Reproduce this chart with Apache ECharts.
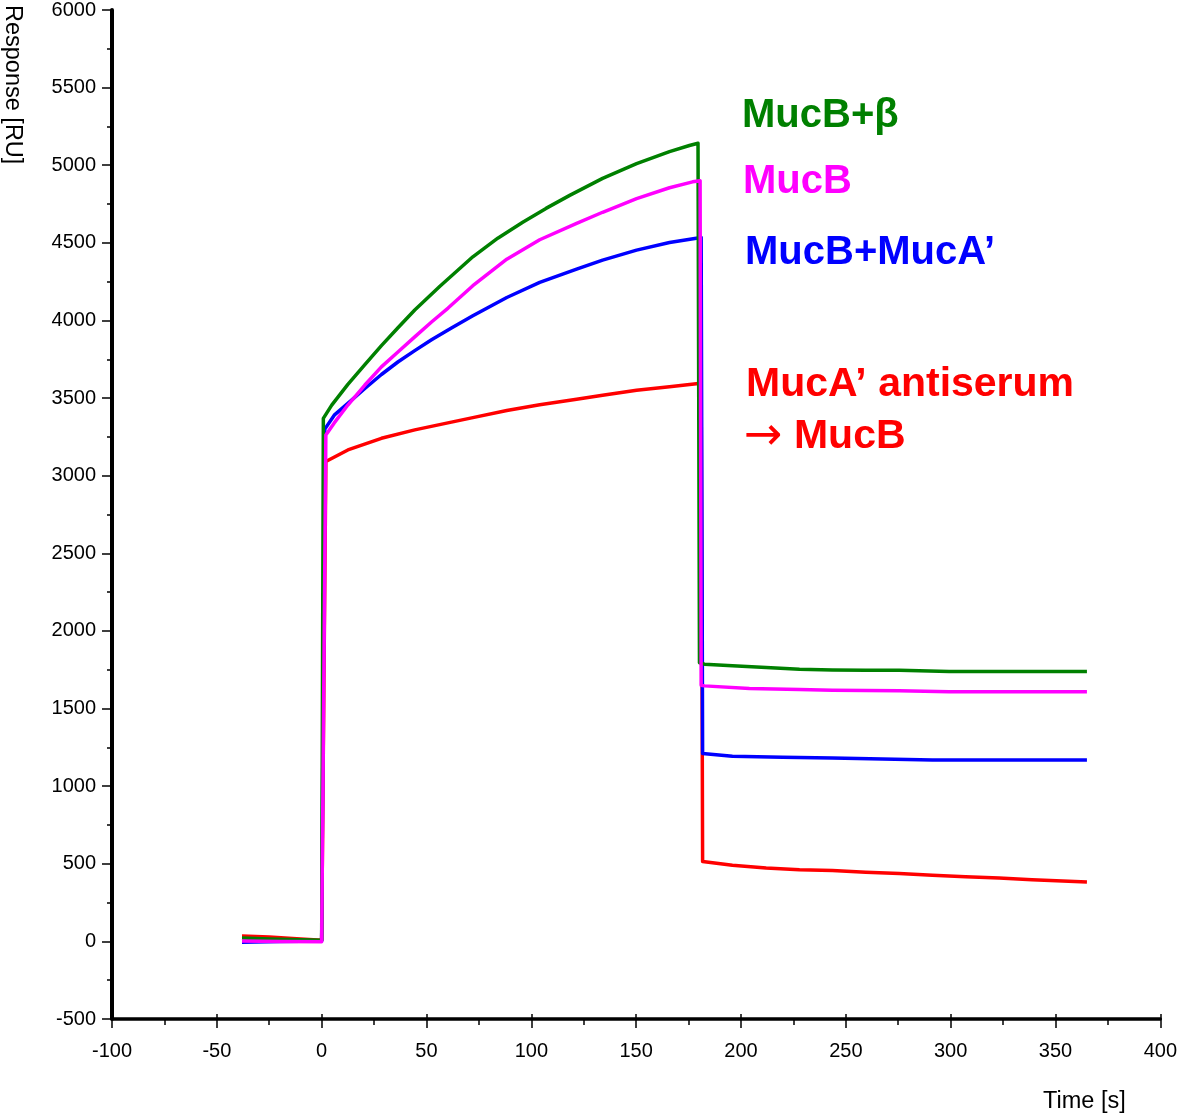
<!DOCTYPE html>
<html>
<head>
<meta charset="utf-8">
<script src="https://cdn.jsdelivr.net/npm/echarts@6/dist/echarts.min.js"></script>
<style>
html,body{margin:0;padding:0;background:#fff;}
#chart{width:1180px;height:1115px;}
</style>
</head>
<body>
<div id="chart"></div>
<script>
// ---- data (time [s], response [RU]) ----
const seriesNames = ['MucA\u2019 antiserum \u2192 MucB', 'MucB+MucA\u2019', 'MucB+\u03b2', 'MucB'];
const seriesColors = ['#ff0000', '#0000ff', '#008000', '#ff00ff'];

const redPts = [[-38,34],[-25,28],[-10,15],[0,8],[2,3091],[12.5,3166],[28.5,3241],[44.4,3295],[61.9,3345],[72.1,3374],[88.3,3420],[104,3457],[121.6,3492],[134,3518],[150.2,3550],[165.9,3573],[178.7,3592],[181,3595],[181.7,515],[182.6,511],[195.9,490],[212,473],[227.9,462],[243.6,456],[259.5,445],[275.5,437],[291.3,426],[307.1,416],[323.1,408],[338.8,397],[365,383]];

const bluePts = [[-38,-5],[-20,0],[0,2],[1.5,3300],[6,3390],[12.5,3466],[20.6,3562],[28.5,3652],[36.5,3734],[44.4,3806],[52.4,3876],[61.9,3952],[72.1,4030],[88.3,4148],[104,4245],[121.6,4331],[134,4389],[150.2,4453],[165.9,4502],[178.7,4530],[181,4535],[181.7,1210],[182.6,1203],[195.9,1192],[219.8,1186],[243.6,1182],[267.4,1175],[291.3,1169],[365,1169]];

const greenPts = [[-38,22],[-25,16],[-10,10],[0,8],[0.8,3369],[4.8,3455],[12.5,3588],[20.6,3715],[28.5,3838],[36.5,3955],[44.4,4067],[56.4,4220],[72.1,4410],[84,4530],[95.9,4633],[107,4722],[118.3,4806],[134,4915],[150.2,5010],[165.9,5088],[175.4,5127],[179.5,5142],[180.2,1795],[182.6,1786],[195.9,1775],[212,1764],[227.9,1753],[243.6,1749],[259.5,1747],[275.5,1747],[299.3,1738],[365,1738]];

const magentaPts = [[-38,2],[-20,0],[0,-2],[2,3262],[6,3340],[12.5,3455],[20.6,3584],[28.5,3701],[36.5,3798],[44.4,3894],[52.4,3990],[60.3,4080],[72.1,4224],[88.3,4395],[104,4520],[121.6,4625],[134,4697],[150.2,4785],[165.9,4855],[176.9,4893],[180.5,4900],[181,1650],[182.6,1646],[204,1629],[227.9,1622],[243.6,1618],[275.5,1614],[299.3,1608],[365,1608]];

const xTicks = {min: -100, max: 400, step: 50};
const yTicks = {min: -500, max: 6000, step: 500};

const chart = echarts.init(document.getElementById('chart'), null, {renderer: 'canvas'});
const FONT = "'Liberation Sans', Arial, Helvetica, sans-serif";
const allPts = [redPts, bluePts, greenPts, magentaPts];
const plain = v => String(v);

const option = {
  animation: false,
  backgroundColor: '#ffffff',
  grid: {left: 112, right: 18, top: 7, bottom: 96, containLabel: false},
  xAxis: [{
    type: 'value', min: xTicks.min, max: xTicks.max, interval: xTicks.step,
    axisLine: {show: true, onZero: false, lineStyle: {color: '#000', width: 3.5}},
    axisTick: {show: true, inside: false, length: 9, lineStyle: {color: '#000', width: 1.5}},
    minorTick: {show: true, splitNumber: 2, length: 6, lineStyle: {color: '#000', width: 1.5}},
    axisLabel: {color: '#000', fontSize: 20, fontFamily: FONT, margin: 22, formatter: plain},
    splitLine: {show: false}
  }, {
    type: 'value', min: xTicks.min, max: xTicks.max, interval: xTicks.step, position: 'bottom',
    axisLine: {show: false, onZero: false},
    axisTick: {show: true, inside: true, length: 5, lineStyle: {color: '#000', width: 1.5}},
    axisLabel: {show: false},
    splitLine: {show: false}
  }],
  yAxis: {
    type: 'value', min: yTicks.min, max: yTicks.max, interval: yTicks.step,
    axisLine: {show: true, onZero: false, lineStyle: {color: '#000', width: 4}},
    axisTick: {show: true, inside: false, length: 10, lineStyle: {color: '#000', width: 1.5}},
    minorTick: {show: true, splitNumber: 2, length: 5, lineStyle: {color: '#000', width: 1.5}},
    axisLabel: {color: '#000', fontSize: 20, fontFamily: FONT, margin: 16, formatter: plain},
    splitLine: {show: false}
  },
  series: allPts.map((pts, i) => ({
    name: seriesNames[i], type: 'line', data: pts, xAxisIndex: 0,
    showSymbol: false, symbol: 'none', smooth: false,
    lineStyle: {color: seriesColors[i], width: 3.5, join: 'round'},
    itemStyle: {color: seriesColors[i]}
  })),
  graphic: [
    {type: 'text', x: 12, y: 5, rotation: -Math.PI/2,
     style: {text: 'Response [RU]', fill: '#000', font: "23.5px " + FONT, align: 'left', verticalAlign: 'middle'}},
    {type: 'text', x: 1043, y: 1102,
     style: {text: 'Time [s]', fill: '#000', font: "23.5px " + FONT, align: 'left', verticalAlign: 'middle'}},
    {type: 'text', x: 742, y: 116,
     style: {text: 'MucB+\u03b2', fill: '#008000', font: "bold 40px " + FONT, align: 'left', verticalAlign: 'middle'}},
    {type: 'text', x: 743, y: 182,
     style: {text: 'MucB', fill: '#ff00ff', font: "bold 40px " + FONT, align: 'left', verticalAlign: 'middle'}},
    {type: 'text', x: 745, y: 253,
     style: {text: 'MucB+MucA\u2019', fill: '#0000ff', font: "bold 40px " + FONT, align: 'left', verticalAlign: 'middle'}},
    {type: 'text', x: 746, y: 385,
     style: {text: 'MucA\u2019 antiserum', fill: '#ff0000', font: "bold 41px " + FONT, align: 'left', verticalAlign: 'middle'}},
    {type: 'text', x: 744, y: 437,
     style: {text: '{a|\u2192} MucB', fill: '#ff0000', font: "bold 41px " + FONT, align: 'left', verticalAlign: 'middle',
       rich: {a: {fontFamily: "'DejaVu Sans', sans-serif", fontSize: 46, fontWeight: 'normal', fill: '#ff0000'}}}}
  ]
};
chart.setOption(option);
</script>
</body>
</html>
